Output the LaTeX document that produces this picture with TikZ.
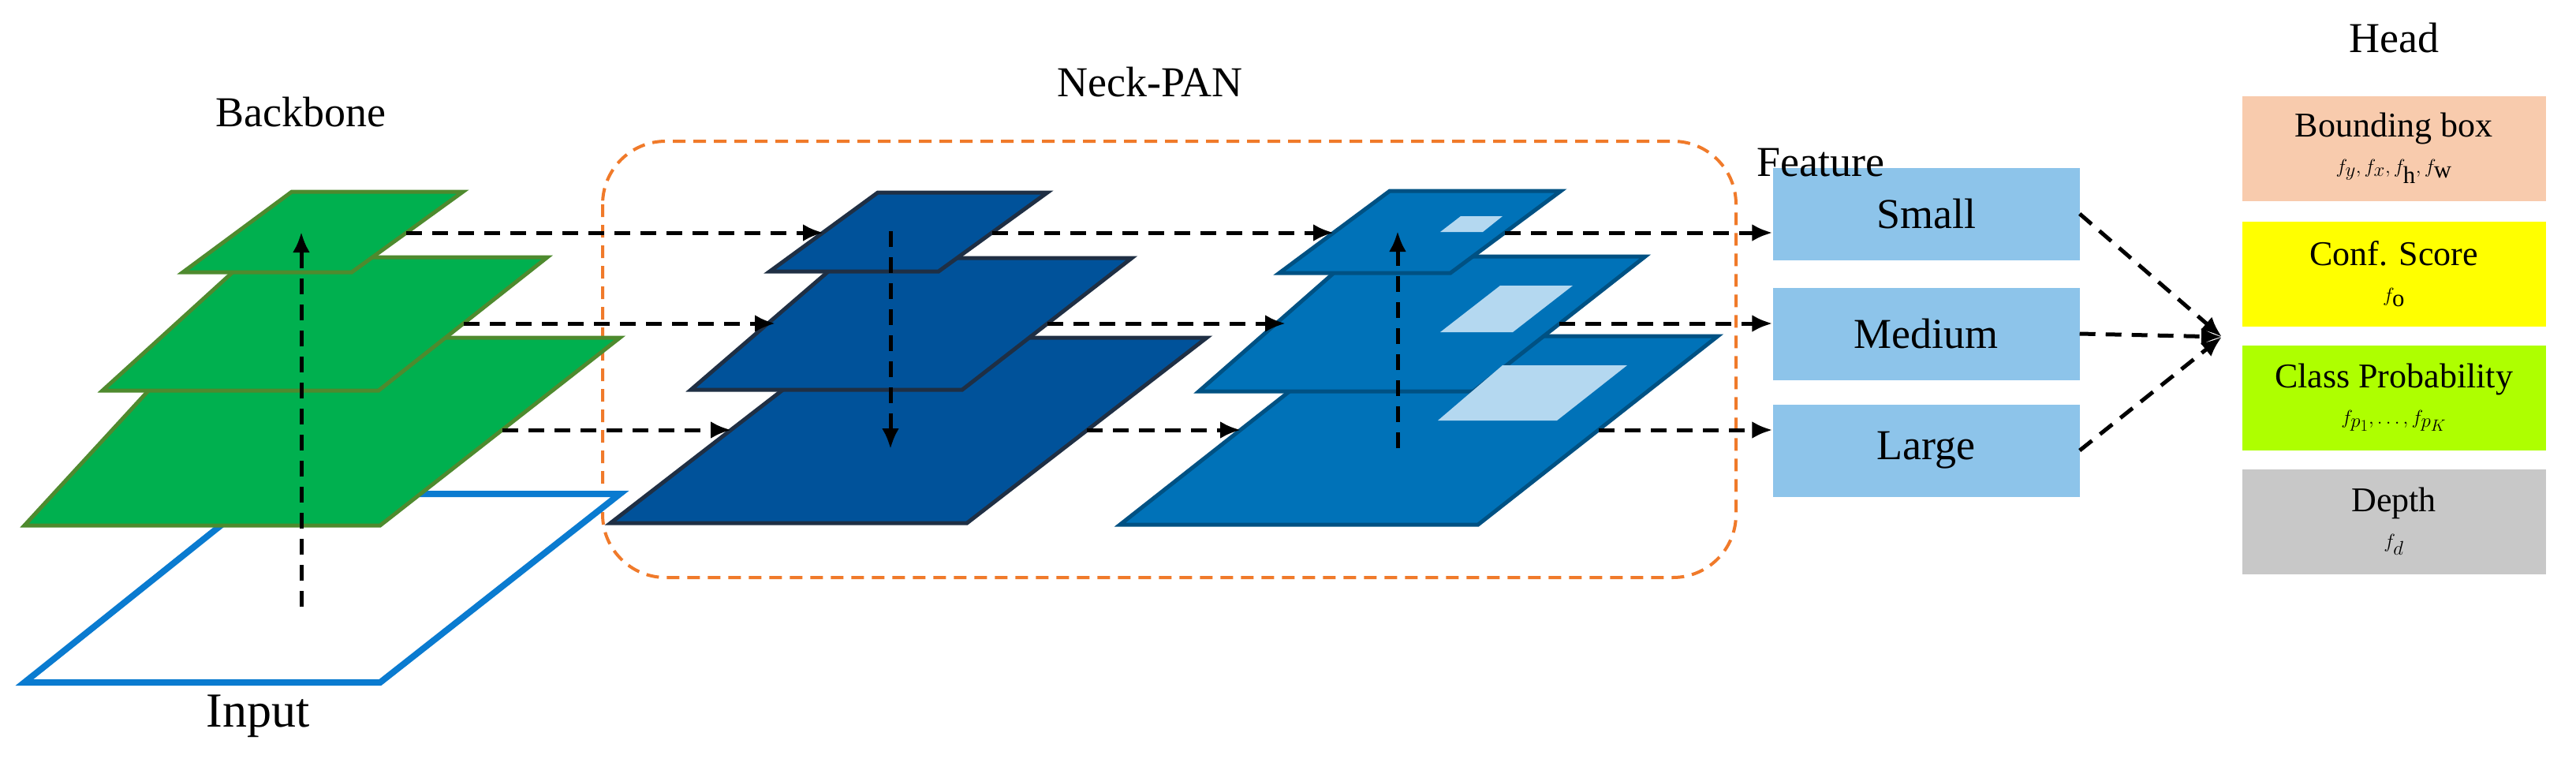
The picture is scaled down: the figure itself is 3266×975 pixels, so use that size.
\documentclass[tikz,border=0pt]{standalone}
\usepackage{fontspec}
\setmainfont{Liberation Serif}
\usetikzlibrary{arrows.meta}
\definecolor{gfill}{HTML}{00B04F}\definecolor{gline}{HTML}{4E8A2E}
\definecolor{dfill}{HTML}{00529A}\definecolor{dline}{HTML}{1F2F44}
\definecolor{bfill}{HTML}{0072B8}\definecolor{bline}{HTML}{005183}
\definecolor{patch}{HTML}{B4D8F0}\definecolor{inl}{HTML}{0A7BD0}
\definecolor{feat}{HTML}{8DC4EA}\definecolor{orng}{HTML}{F07A2A}
\definecolor{bbox}{HTML}{F8CBAD}\definecolor{conf}{HTML}{FFFF00}
\definecolor{cls}{HTML}{AEFF00}\definecolor{dep}{HTML}{C8C8C8}
\newcommand{\quadr}[9]{\draw[#1] (#2,#4) -- (#3,#4) -- (#5,#7) -- (#6,#7) -- cycle; \coordinate (#8) at (#9);}
\tikzset{
 green/.style={fill=gfill,draw=gline,line width=5pt,line join=miter},
 dark/.style={fill=dfill,draw=dline,line width=5pt},
 blue/.style={fill=bfill,draw=bline,line width=5pt},
 patchs/.style={fill=patch,draw=none},
 dl/.style={black,line width=5pt,dash pattern=on 20pt off 13pt},
 arr/.style={dl,-{Latex[length=26pt,width=22pt]}},
 lbl/.style={font=\fontsize{54}{60}\selectfont},
 fbox/.style={fill=feat,minimum width=389pt,minimum height=117pt,font=\fontsize{54}{60}\selectfont,inner sep=0pt},
 hbox/.style={minimum width=385pt,minimum height=133pt,align=center,inner sep=0pt,font=\fontsize{44}{50}\selectfont}
}
\begin{document}
\begin{tikzpicture}[x=1pt,y=-1pt]
\useasboundingbox (0,0) rectangle (3266,975);
% neck box
\draw[orng,line width=4pt,dash pattern=on 16pt off 10pt,rounded corners=80pt] (764,179) rectangle (2201,732);
% backbone
\draw[inl,line width=8pt,fill=white] (31,865) -- (482,865) -- (786,626) -- (330,626) -- cycle;
\coordinate (inp) at (382,769);
\quadr{green}{31}{482}{666}{786}{250}{428}{gL}{637,545}
\quadr{green}{130}{480}{495}{694}{316}{326}{gM}{588,410}
\quadr{green}{232}{446}{345}{587}{370}{243}{gS}{515,295}
\coordinate (gtop) at (382,294);
% neck dark
\quadr{dark}{774}{1226}{663}{1530}{1078}{428}{dL}{1378,545}
\quadr{dark}{876}{1220}{494}{1435}{1070}{327}{dM}{1328,410}
\quadr{dark}{976}{1190}{344}{1328}{1113}{244}{dS}{1258,295}
\coordinate (dLin) at (927,545);\coordinate (dMin) at (983,410);\coordinate (dSin) at (1044,295);
\coordinate (dtop) at (1129,293);\coordinate (dbot) at (1129,569);
% neck blue
\quadr{blue}{1420}{1874}{665}{2178}{1724}{426}{bL}{2027,545}
\quadr{blue}{1520}{1868}{496}{2086}{1715}{325}{bM}{1977,410}
\quadr{blue}{1622}{1839}{346}{1979}{1762}{242}{bS}{1908,295}
\coordinate (bLin) at (1573,545);\coordinate (bMin) at (1630,410);\coordinate (bSin) at (1691,295);
\coordinate (bbot) at (1772,568);\coordinate (btop) at (1772,293);
\fill[patchs] (1823,533) -- (1974,533) -- (2063,463) -- (1905,463) -- cycle;
\fill[patchs] (1826,421) -- (1918,421) -- (1994,362) -- (1902,362) -- cycle;
\fill[patchs] (1826,294) -- (1880,294) -- (1905,274) -- (1852,274) -- cycle;
% features
\node[fbox] (small) at (2442,271) {Small};
\node[fbox] (medium) at (2442,423) {Medium};
\node[fbox] (large) at (2442,571) {Large};
\coordinate (conv) at (2817,427);
% head
\node[hbox,fill=bbox] (hb) at (3035,188) {Bounding box\\[-4pt]$f_y, f_x, f_\mathrm{h}, f_\mathrm{w}$};
\node[hbox,fill=conf] (hc) at (3035,347) {Conf. Score\\[-4pt]$f_\mathrm{o}$};
\node[hbox,fill=cls] (hp) at (3035,504) {Class Probability\\[-4pt]$f_{p_1}, \ldots, f_{p_K}$};
\node[hbox,fill=dep] (hd) at (3035,661) {Depth\\[-4pt]$f_d$};
% labels
\node[lbl] (lb) at (381,142) {Backbone};
\node[lbl] (ln) at (1458,104) {Neck-PAN};
\node[lbl] (lf) at (2308,206) {Feature};
\node[lbl] (lh) at (3035,48) {Head};
\node[font=\fontsize{62}{66}\selectfont] (li) at (327,908) {Input};
% connectors
\draw[arr] (inp) -- (gtop);
\draw[arr] (dtop) -- (dbot);
\draw[arr] (bbot) -- (btop);
\draw[arr] (gS) -- (dSin);\draw[arr] (gM) -- (dMin);\draw[arr] (gL) -- (dLin);
\draw[arr] (dS) -- (bSin);\draw[arr] (dM) -- (bMin);\draw[arr] (dL) -- (bLin);
\draw[arr] (bS) -- (small.west|-bS);\draw[arr] (bM) -- (medium.west|-bM);\draw[arr] (bL) -- (large.west|-bL);
\draw[arr] (small.east) -- (conv);\draw[arr] (medium.east) -- (conv);\draw[arr] (large.east) -- (conv);
\end{tikzpicture}
\end{document}
